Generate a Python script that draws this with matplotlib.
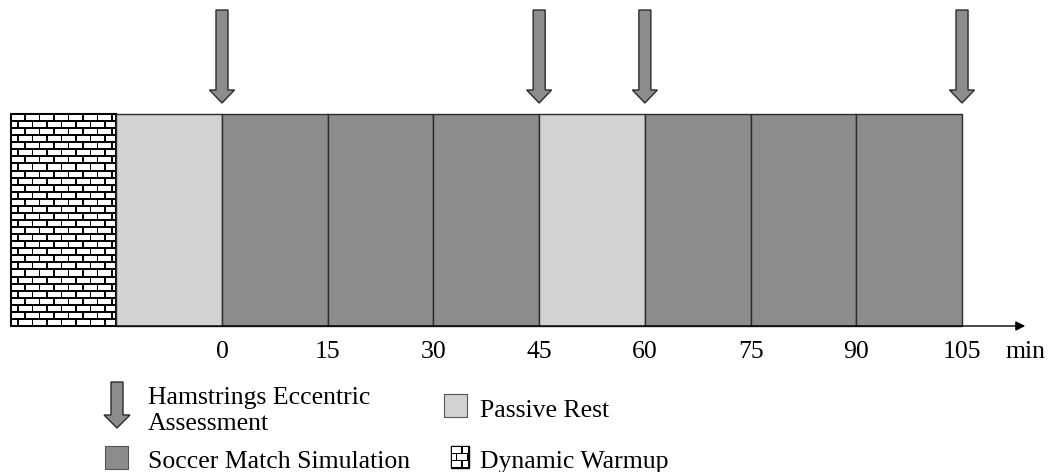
import matplotlib.pyplot as plt
from matplotlib.patches import Rectangle, FancyArrow
import numpy as np

plt.rcParams['font.family'] = ['Liberation Serif', 'DejaVu Serif']

# timeline blocks (minutes): start, end, kind
seg_start = [-30, -15, 0, 15, 30, 45, 60, 75, 90]
seg_end = [-15, 0, 15, 30, 45, 60, 75, 90, 105]
seg_kind = ['warmup', 'rest', 'match', 'match', 'match', 'rest', 'match', 'match', 'match']
assess_times = [0, 45, 60, 105]
tick_vals = [0, 15, 30, 45, 60, 75, 90, 105]

colors = {'match': '#8c8c8c', 'rest': '#d2d2d2'}
edge = '#2b2b2b'
fs = 18.5

# pixel layout: x in minutes, y in pixels (top = 0)
px_per_min = 7.048
x0_px = 222
W, H = 1048, 472

fig = plt.figure(figsize=(W / 100, H / 100), dpi=100)
ax = fig.add_axes([0, 0, 1, 1])
ax.set_xlim(-x0_px / px_per_min, (W - x0_px) / px_per_min)
ax.set_ylim(H, 0)
ax.axis('off')

bar_top, bar_bot = 114, 326


def px(n):
    # horizontal pixels -> minutes
    return n / px_per_min


def pos(n):
    # absolute x pixel -> minutes
    return (n - x0_px) / px_per_min


def bricks(xa, xb, ya, yb, row_h, brick_w, lw=1.5, gap=2.0):
    # black mortar with white bricks, alternate rows offset
    ax.add_patch(Rectangle((xa, ya), xb - xa, yb - ya, facecolor='black', edgecolor='black', lw=lw, zorder=2))
    gap_y = gap
    gap_x = px(gap * 0.8)
    nrows = int(round((yb - ya) / row_h))
    rh = (yb - ya) / nrows
    for r in range(nrows):
        y = ya + r * rh
        off = 0 if r % 2 == 0 else -brick_w / 2
        x = xa + off
        while x < xb:
            bx0 = max(x + gap_x / 2, xa + gap_x)
            bx1 = min(x + brick_w - gap_x / 2, xb - gap_x)
            if bx1 > bx0:
                ax.add_patch(Rectangle((bx0, y + gap_y / 2), bx1 - bx0, rh - gap_y,
                                       facecolor='white', edgecolor='none', zorder=3))
            x += brick_w


for s, e, k in zip(seg_start, seg_end, seg_kind):
    if k == 'warmup':
        bricks(s, e, bar_top, bar_bot, 7.1, px(14.5))
    else:
        ax.add_patch(Rectangle((s, bar_top), e - s, bar_bot - bar_top,
                               facecolor=colors[k], edgecolor=edge, lw=1.0, zorder=2))

# time axis
ax.annotate('', xy=(pos(1028), bar_bot), xytext=(seg_start[0], bar_bot),
            arrowprops=dict(arrowstyle='-|>', color='black', lw=1.0, mutation_scale=14), zorder=4)
for t in tick_vals:
    ax.text(t, 358, str(t), ha='center', va='baseline', fontsize=fs)
ax.text(pos(1025), 358, 'min', ha='center', va='baseline', fontsize=fs)

# assessment arrows
for t in assess_times:
    ax.add_patch(FancyArrow(t, 10, 0, 93, width=px(12), head_width=px(25), head_length=13,
                            length_includes_head=True, facecolor='#8c8c8c', edgecolor=edge, lw=1.0, zorder=5))

# legend
ax.add_patch(FancyArrow(pos(117), 382, 0, 46, width=px(12), head_width=px(26), head_length=13,
                        length_includes_head=True, facecolor='#8c8c8c', edgecolor=edge, lw=1.0, zorder=5))
ax.text(pos(148), 404, 'Hamstrings Eccentric', ha='left', va='baseline', fontsize=fs)
ax.text(pos(148), 430, 'Assessment', ha='left', va='baseline', fontsize=fs)

ax.add_patch(Rectangle((pos(105), 446), px(23), 23, facecolor=colors['match'], edgecolor='#555555', lw=0.8))
ax.text(pos(148), 468, 'Soccer Match Simulation', ha='left', va='baseline', fontsize=fs)

ax.add_patch(Rectangle((pos(444), 394), px(23), 23, facecolor=colors['rest'], edgecolor='#555555', lw=0.8))
ax.text(pos(480), 417, 'Passive Rest', ha='left', va='baseline', fontsize=fs)

bricks(pos(451), pos(469), 446, 468, 7.3, px(11), lw=1.0, gap=1.6)
ax.text(pos(480), 468, 'Dynamic Warmup', ha='left', va='baseline', fontsize=fs)

fig.savefig('out.png', dpi=100)
